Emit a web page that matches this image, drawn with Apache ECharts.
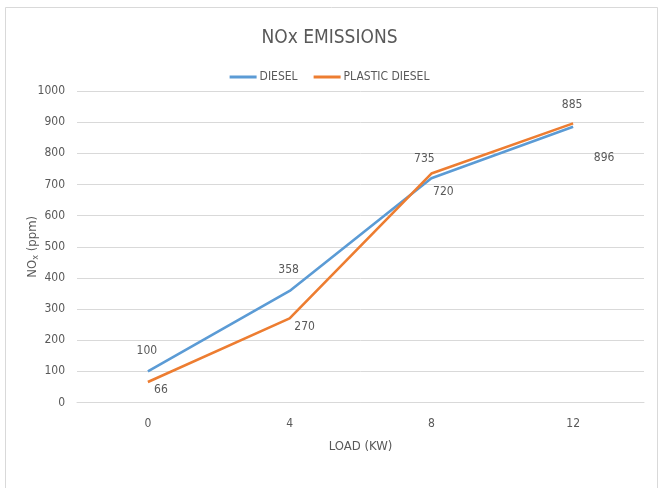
<!DOCTYPE html>
<html>
<head>
<meta charset="utf-8">
<script src="https://cdn.jsdelivr.net/npm/echarts@6/dist/echarts.min.js"></script>
<style>
  html, body { margin: 0; padding: 0; background: #fff; }
  #chart { width: 659px; height: 488px; }
</style>
</head>
<body>
<div id="chart"></div>
<script>
// Load (kW) categories and NOx readings (ppm)
const loads = ['0', '4', '8', '12'];
const diesel = [100, 358, 720, 885];
const plasticDiesel = [66, 270, 735, 896];
const yTicks = { min: 0, max: 1000, interval: 100 };

// Label nudges (px) from each point
const dieselLabelOffsets = [[-1, -20], [-1, -21], [12, 14], [-1, -22]];
const plasticLabelOffsets = [[13, 8], [15, 8], [-7, -15], [31, 34]];

const FONT = '"Liberation Sans Narrow", "DejaVu Sans Condensed", "Open Sans", sans-serif';
const TXT = '#595959';

function pointsWithLabels(values, offsets) {
  return values.map((v, i) => ({
    value: v,
    label: { offset: offsets[i] }
  }));
}

const chart = echarts.init(document.getElementById('chart'), null, { renderer: 'canvas' });

chart.setOption({
  backgroundColor: '#ffffff',
  animation: false,
  graphic: [{
    type: 'rect',
    shape: { x: 5.5, y: 7.5, width: 652, height: 500 },
    style: { fill: 'none', stroke: '#d9d9d9', lineWidth: 1 },
    silent: true
  }],
  title: {
    text: 'NOx EMISSIONS',
    left: 'center',
    top: 24,
    textStyle: { fontFamily: FONT, fontSize: 19, fontWeight: 'normal', color: TXT }
  },
  legend: {
    top: 66,
    left: 'center',
    itemWidth: 27,
    itemHeight: 3,
    itemGap: 16,
    icon: 'rect',
    textStyle: { fontFamily: FONT, fontSize: 12, color: TXT, padding: [0, 0, 0, -2] },
    data: ['DIESEL', 'PLASTIC DIESEL']
  },
  grid: { left: 77, right: 15, top: 91, bottom: 85.5, containLabel: false },
  xAxis: {
    type: 'category',
    data: loads,
    boundaryGap: true,
    name: 'LOAD (KW)',
    nameLocation: 'middle',
    nameGap: 38,
    nameTextStyle: { fontFamily: FONT, fontSize: 13, color: TXT },
    axisLine: { show: true, lineStyle: { color: '#d9d9d9', width: 1 } },
    axisTick: { show: false },
    axisLabel: { fontFamily: FONT, fontSize: 12, color: TXT, margin: 15 }
  },
  yAxis: {
    type: 'value',
    min: yTicks.min,
    max: yTicks.max,
    interval: yTicks.interval,
    name: 'NO{sub|x} (ppm)',
    nameLocation: 'middle',
    nameRotate: 90,
    nameGap: 37,
    nameMoveOverlap: false,
    nameTextStyle: {
      fontFamily: FONT, fontSize: 13, color: TXT,
      rich: { sub: { fontFamily: FONT, fontSize: 9, color: TXT, verticalAlign: 'bottom', padding: [6, 0, 0, 0] } }
    },
    axisLine: { show: false },
    axisTick: { show: false },
    axisLabel: { fontFamily: FONT, fontSize: 12, color: TXT, margin: 12, formatter: (v) => String(v) },
    splitLine: { lineStyle: { color: '#d9d9d9', width: 1 } }
  },
  series: [
    {
      name: 'DIESEL',
      type: 'line',
      data: pointsWithLabels(diesel, dieselLabelOffsets),
      symbol: 'circle',
      symbolSize: 0,
      showSymbol: true,
      color: '#5B9BD5',
      lineStyle: { width: 2.6, color: '#5B9BD5' },
      label: { show: true, position: 'inside', fontFamily: FONT, fontSize: 12, color: TXT }
    },
    {
      name: 'PLASTIC DIESEL',
      type: 'line',
      data: pointsWithLabels(plasticDiesel, plasticLabelOffsets),
      symbol: 'circle',
      symbolSize: 0,
      showSymbol: true,
      color: '#ED7D31',
      lineStyle: { width: 2.6, color: '#ED7D31' },
      label: { show: true, position: 'inside', fontFamily: FONT, fontSize: 12, color: TXT }
    }
  ]
});
</script>
</body>
</html>
